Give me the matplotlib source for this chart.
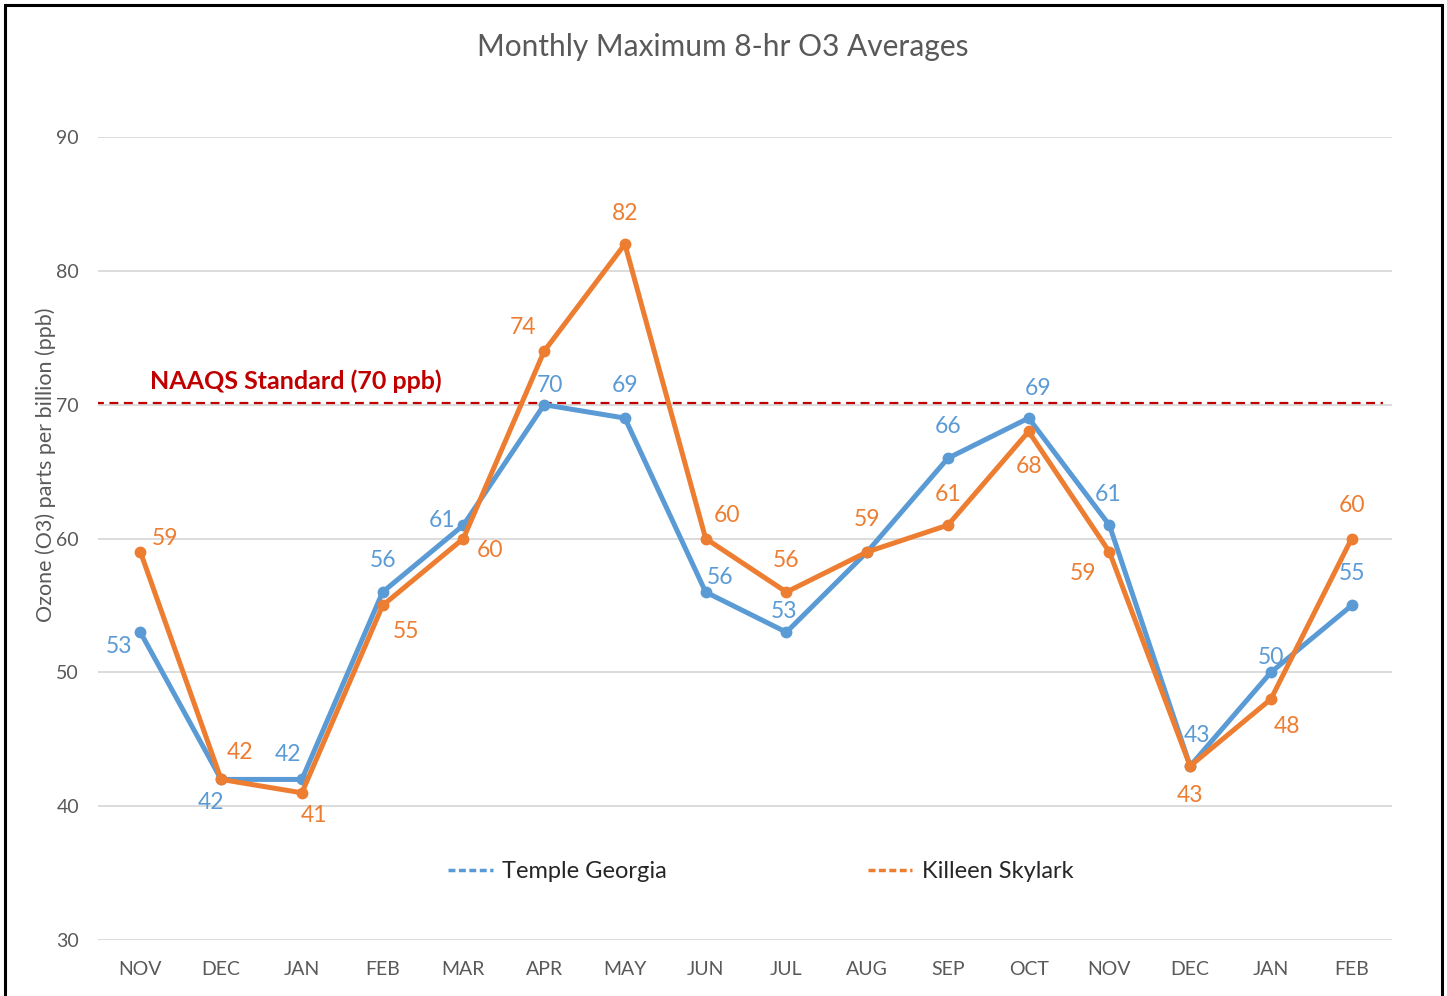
import matplotlib.pyplot as plt
from matplotlib.lines import Line2D
from matplotlib.patches import Rectangle

months = ["NOV", "DEC", "JAN", "FEB", "MAR", "APR", "MAY", "JUN",
          "JUL", "AUG", "SEP", "OCT", "NOV", "DEC", "JAN", "FEB"]
temple = [53, 42, 42, 56, 61, 70, 69, 56, 53, 59, 66, 69, 61, 43, 50, 55]
killeen = [59, 42, 41, 55, 60, 74, 82, 60, 56, 59, 61, 68, 59, 43, 48, 60]
naaqs = 70

# label offsets in pixels (None = no label drawn)
temple_offsets = [(-21, -14), (-10, -23), (-14, 25), (0, 32), (-21, 5), (6, 19),
                  (0, 33), (14, 15), (-2, 21), None, (0, 32), (9, 30),
                  (-1, 31), (7, 31), (0, 15), (0, 32)]
killeen_offsets = [(25, 13), (19, 27), (12, -23), (23, -26), (27, -12), (-21, 24),
                   (0, 31), (21, 23), (0, 32), (0, 32), (0, 31), (0, -35),
                   (-26, -22), (0, -29), (16, -27), (0, 33)]

blue = "#5B9BD5"
orange = "#ED7D31"
red = "#C00000"
grey = "#595959"

plt.rcParams["font.family"] = ["Lato", "DejaVu Sans"]

fig = plt.figure(figsize=(14.47, 9.96), dpi=100)
ax = fig.add_axes([0.068, 0.0562, 0.894, 0.8062])

x = list(range(len(months)))
ax.plot(x, temple, color=blue, lw=3.6, marker="o", ms=7.5, zorder=3)
ax.plot(x, killeen, color=orange, lw=3.6, marker="o", ms=7.5, zorder=4)

for xi, v, off in zip(x, temple, temple_offsets):
    if off is None:
        continue
    ax.annotate(str(v), (xi, v), xytext=off, textcoords="offset pixels",
                ha="center", va="center", color=blue, fontsize=16.5, zorder=5)
for xi, v, off in zip(x, killeen, killeen_offsets):
    ax.annotate(str(v), (xi, v), xytext=off, textcoords="offset pixels",
                ha="center", va="center", color=orange, fontsize=16.5, zorder=5)

ax.axhline(naaqs + 0.12, xmin=-0.003, xmax=0.993, color=red, lw=1.6,
           linestyle=(0, (4, 2.5)), zorder=2)
ax.text(0.12, naaqs + 0.9, "NAAQS Standard (70 ppb)", color=red,
        fontsize=18, fontweight="bold", va="bottom", ha="left")

ax.set_xlim(-0.52, 15.5)
ax.set_ylim(30, 90)
ax.set_yticks(range(30, 91, 10))
ax.set_xticks(x)
ax.set_xticklabels(months)
ax.grid(axis="y", color="#D9D9D9", lw=1.3)
ax.set_axisbelow(True)
for s in ax.spines.values():
    s.set_visible(False)
ax.tick_params(length=0, colors=grey, labelsize=14)
ax.tick_params(axis="x", pad=15)
ax.tick_params(axis="y", pad=14)

ax.set_ylabel("Ozone (O3) parts per billion (ppb)", color=grey, fontsize=15.5)
ax.yaxis.set_label_coords(-0.033, 0.592)
ax.set_title("Monthly Maximum 8-hr O3 Averages", color=grey, fontsize=21.5,
             pad=58, x=0.483)

handles = [Line2D([0], [0], color=blue, lw=2.5, linestyle=(0, (2, 1))),
           Line2D([0], [0], color=orange, lw=2.5, linestyle=(0, (2, 1)))]
leg = ax.legend(handles, ["Temple Georgia", "Killeen Skylark"], ncol=2,
                loc="center", bbox_to_anchor=(0.512, 0.085), frameon=False,
                fontsize=17, handlelength=1.9, handletextpad=0.4, columnspacing=8.5)
for t in leg.get_texts():
    t.set_color("#262626")

fig.patches.append(Rectangle((5 / 1447, -0.05), 1437 / 1447, 1.05 - 5 / 996,
                             transform=fig.transFigure, fill=False,
                             edgecolor="black", lw=2.2))

fig.savefig("out.png", dpi=100)
